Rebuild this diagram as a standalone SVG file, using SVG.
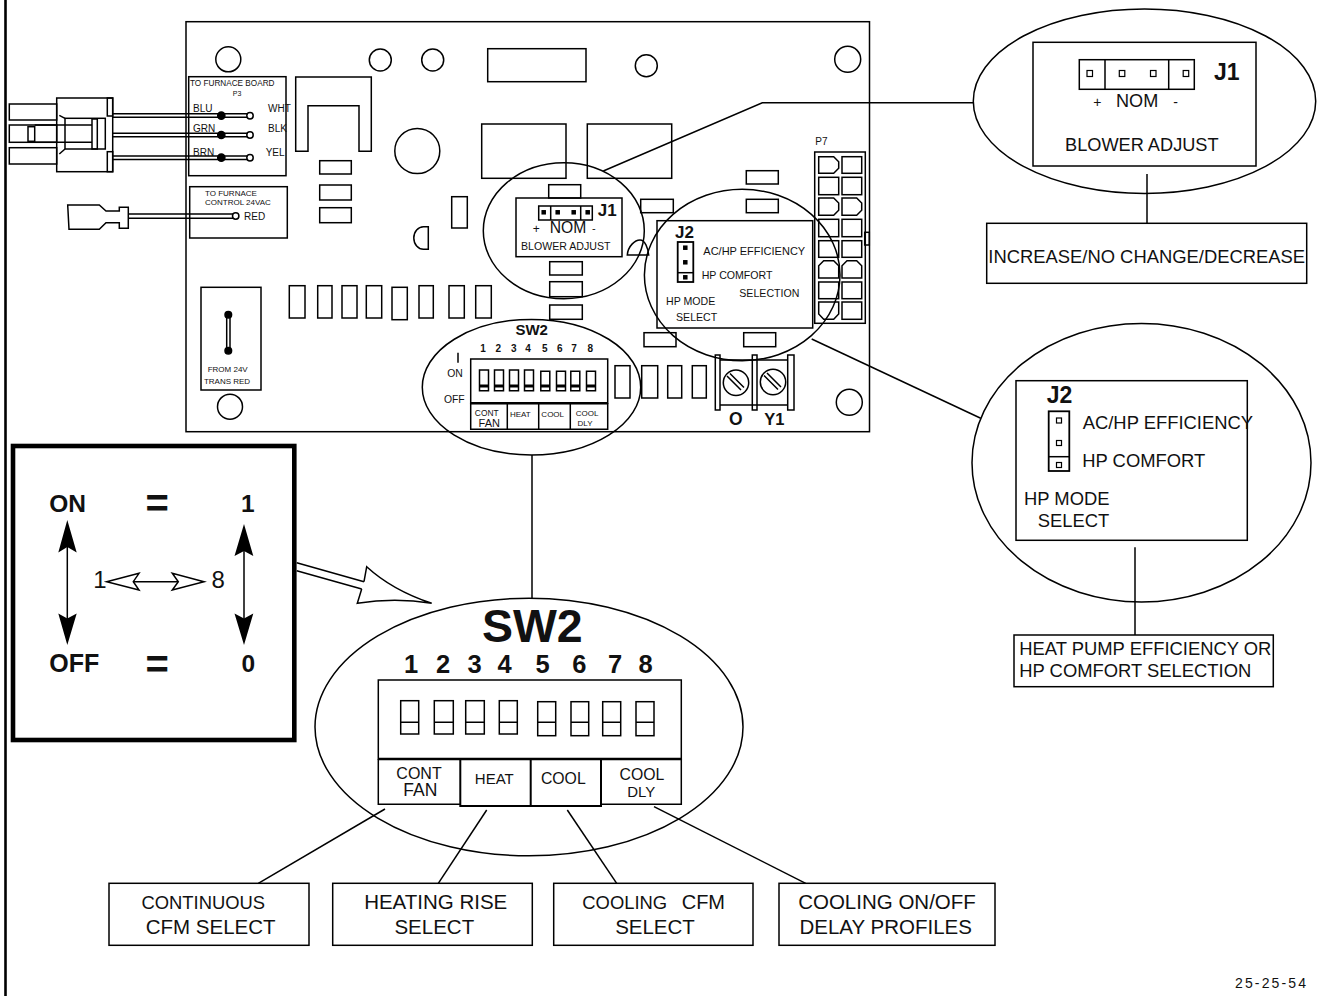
<svg xmlns="http://www.w3.org/2000/svg" width="1322" height="996" viewBox="0 0 1322 996">
<style>
text{font-family:"Liberation Sans",Arial,sans-serif;fill:#111;stroke:none!important}
.b{font-weight:bold}
.m{text-anchor:middle}
.s,.s rect,.s circle,.s path,.s ellipse,.s line{fill:none;stroke:#000;stroke-width:1.5}
.w{fill:#fff!important}
.k{fill:#000!important}
.h{stroke-width:2.4!important}
.t{stroke-width:1.2!important}
.t8{font-size:8px}.t10{font-size:10px}.t11{font-size:10.6px}.t18{font-size:18.4px}.t20{font-size:20.5px}
</style>
<rect width="1322" height="996" fill="#fff"/>
<line x1="5.5" y1="0" x2="5.5" y2="996" stroke="#000" stroke-width="2.6"/>

<g id="board" class="s">
<rect x="186" y="21.7" width="683.5" height="410"/>
<circle cx="228.3" cy="59.3" r="12.5"/><circle cx="380.3" cy="60" r="11"/><circle cx="432.7" cy="60" r="11"/><circle cx="646.3" cy="65.7" r="11"/><circle cx="847.7" cy="59.3" r="13"/><circle cx="230" cy="406.7" r="12.5"/><circle cx="849.3" cy="402.3" r="13"/>
<rect x="487.7" y="48.7" width="98.3" height="33"/>
<rect x="481.7" y="124" width="84.3" height="54.3"/><rect x="587.3" y="124" width="84.4" height="54.3"/>
<path d="M295.7 151.3V77H371.3V151.3H359V105.7H308V151.3Z"/>
<circle cx="417.3" cy="151" r="22.5"/>
<rect x="319.7" y="160.7" width="31.6" height="13.3"/><rect x="319.7" y="185" width="31.6" height="15"/><rect x="319.7" y="207.7" width="31.6" height="15"/>
<rect x="451.7" y="196.7" width="15.6" height="31.3"/>
<path d="M428.3 226.7H423.5A9.7 11.3 0 0 0 423.5 249.3H428.3Z"/>
<rect x="289.3" y="285.7" width="15.7" height="32.3"/><rect x="317.7" y="285.7" width="14.3" height="32.3"/><rect x="342" y="285.7" width="15" height="32.3"/><rect x="366.3" y="285.7" width="15.4" height="32.3"/><rect x="392" y="287.3" width="15.3" height="32.4"/><rect x="419" y="285.7" width="14.3" height="32.3"/><rect x="449" y="285.7" width="15.3" height="32.3"/><rect x="475.7" y="285.7" width="15.6" height="32.3"/>
<rect x="548.7" y="184.7" width="32" height="13.3"/><rect x="549.7" y="261.7" width="32.6" height="13.3"/><rect x="549.7" y="281.7" width="32.6" height="15"/><rect x="549.7" y="305" width="32.6" height="14.3"/>
<rect x="640.7" y="199.3" width="32.6" height="13.4"/><rect x="746.3" y="170.7" width="32" height="13.3"/><rect x="746.3" y="199.3" width="32" height="13.4"/>
<path d="M627.3 255C628 246 635 240 640 240C645 240 648 248 648.7 255Z"/>
<rect x="644" y="332.7" width="32" height="14"/><rect x="743.7" y="332.7" width="32" height="14"/>
<rect x="615" y="365.7" width="15" height="32.3"/><rect x="641.7" y="365.7" width="16" height="32.3"/><rect x="667.7" y="365.7" width="14" height="32.3"/><rect x="692.3" y="365.7" width="14" height="32.3"/>
</g>

<g id="p3-connector" class="s">
<rect x="188.7" y="76.7" width="97.3" height="99"/>
<rect x="56.7" y="98" width="56" height="73.7"/>
<rect x="9.3" y="104" width="47.4" height="16"/><rect x="9.3" y="125" width="47.4" height="17.3"/><rect x="9.3" y="147.7" width="47.4" height="16.3"/>
<rect x="65" y="118.3" width="40.3" height="30.7"/>
<rect x="107.3" y="98" width="5.4" height="18"/><rect x="107.3" y="151.7" width="5.4" height="20"/>
<rect x="92" y="119" width="5.3" height="30"/><rect x="28" y="126.7" width="6.7" height="14.6"/>
<line x1="59.3" y1="115.3" x2="65" y2="118.3"/><line x1="59.3" y1="154" x2="65" y2="149"/>
<path d="M34.7 125H92M34.7 142.3H92"/>
<path d="M112.7 113.7H250M112.7 117.3H250M112.7 133.2H250M112.7 136.8H250M112.7 156H250M112.7 159.5H250"/>
<circle class="k" cx="221.3" cy="115.7" r="3.6"/><circle class="w" cx="250" cy="115.7" r="3.2"/><circle class="k" cx="221.3" cy="135" r="3.6"/><circle class="w" cx="250" cy="135" r="3.2"/><circle class="k" cx="221.3" cy="157.7" r="3.6"/><circle class="w" cx="250" cy="157.7" r="3.2"/>
<text x="190" y="86" style="font-size:8.2px">TO FURNACE BOARD</text>
<text x="237" y="96" class="m" style="font-size:7px">P3</text>
<text x="193" y="112" class="t10">BLU</text><text x="193" y="132" class="t10">GRN</text><text x="193" y="155.7" class="t10">BRN</text>
<text x="268" y="112" class="t10">WHT</text><text x="268" y="132" class="t10">BLK</text><text x="265.7" y="156" class="t10">YEL</text>
</g>

<g id="red-terminal" class="s">
<rect x="189.7" y="186.7" width="97.6" height="51.3"/>
<path d="M67.7 205L69 229.3H99.3L106 222.7H119.3V228.3H128.3V207.3H119.3V211H106L99.3 205Z"/>
<path d="M128.3 214H234M128.3 218.3H234"/>
<circle class="w" cx="235.7" cy="216" r="3.2"/>
<text x="205" y="196" class="t8">TO FURNACE</text><text x="205" y="205" class="t8">CONTROL 24VAC</text>
<text x="244" y="220" class="t10">RED</text>
</g>

<g id="trans-terminal" class="s">
<rect x="201" y="287.3" width="60" height="102.7"/>
<path d="M226.7 314.7V350.7M230 314.7V350.7"/>
<circle class="k" cx="228.3" cy="314.7" r="3.3"/><circle class="k" cx="228.3" cy="350.7" r="3.3"/>
<text x="227.7" y="372" class="t8 m">FROM 24V</text><text x="227" y="384" class="t8 m">TRANS RED</text>
</g>

<g id="p7" class="s">
<rect x="814.7" y="152" width="50.6" height="171.3"/>
<rect x="864.7" y="232.3" width="4.6" height="12.7"/>
<path d="M818.7 156.7H833.7L838.7 161.7V168.3L833.7 173.3H818.7Z"/><rect x="842" y="156.7" width="19.7" height="16.6"/>
<rect x="818.7" y="177.3" width="20" height="17.4"/><rect x="842" y="177.3" width="19.7" height="17.4"/>
<path d="M818.7 198H833.7L838.7 203V210.3L833.7 215.3H818.7Z"/><path d="M842 198H856.7L861.7 203V210.3L856.7 215.3H842Z"/>
<rect x="818.7" y="219.3" width="20" height="17.4"/><rect x="842" y="219.3" width="19.7" height="17.4"/>
<rect x="818.7" y="240.7" width="20" height="16.6"/><rect x="842" y="240.7" width="19.7" height="16.6"/>
<path d="M818.7 278V265.7L823.7 260.7H833.7L838.7 265.7V278Z"/><path d="M842 278V265.7L847 260.7H856.7L861.7 265.7V278Z"/>
<rect x="818.7" y="282" width="20" height="16.7"/><rect x="842" y="282" width="19.7" height="16.7"/>
<path d="M818.7 302H838.7V314L833.7 319.3H823.7L818.7 314Z"/><rect x="842" y="302" width="19.7" height="17.3"/>
<text x="815.3" y="145" class="t10">P7</text>
</g>

<g id="terminals" class="s">
<rect x="715.3" y="355" width="4.7" height="55"/><rect x="752.3" y="355" width="4.7" height="55"/><rect x="787.7" y="355" width="6.3" height="55"/>
<path d="M720 360H787.7M720 405H787.7"/>
<circle cx="736" cy="382.7" r="12.7"/><circle cx="773" cy="382" r="12.7"/>
<path d="M727 376L741 390M730 373.5L744 387.5M764 375.5L778 389.5M767 373L781 387"/>
<text x="735.7" y="425" class="b m" style="font-size:17.5px">O</text><text x="774.3" y="425" class="b m" style="font-size:16.5px">Y1</text>
</g>

<g id="j1-small" class="s">
<ellipse cx="563.8" cy="230.7" rx="80.5" ry="68"/>
<rect x="516" y="198" width="106" height="58.7"/>
<rect x="538.7" y="206" width="53.6" height="14"/><path d="M550.7 206V220M580.7 206V220"/>
<rect class="k" x="542.2" y="210.8" width="3" height="3"/><rect class="k" x="556.2" y="210.8" width="3" height="3"/><rect class="k" x="572.2" y="210.8" width="3" height="3"/><rect class="k" x="586.2" y="210.8" width="3" height="3"/>
<text x="597.7" y="216" class="b" style="font-size:17px">J1</text>
<text x="532.7" y="232.7" style="font-size:12px">+</text><text x="549.7" y="232.7" style="font-size:15.7px">NOM</text><text x="592" y="232" style="font-size:11px">-</text>
<text x="521" y="250" class="t11">BLOWER ADJUST</text>
</g>

<g id="j2-small" class="s">
<ellipse cx="742.2" cy="275" rx="97.8" ry="85.7"/>
<rect x="657" y="220.7" width="155.7" height="107.3"/>
<rect x="677.7" y="242" width="15.6" height="40" style="stroke-width:1.8"/><line x1="677.7" y1="272.7" x2="693.3" y2="272.7"/>
<rect class="k" x="683.8" y="246.2" width="3" height="3"/><rect class="k" x="683.8" y="260.8" width="3" height="3"/><rect class="k" x="683.8" y="275.8" width="3" height="3"/>
<text x="675" y="238" class="b" style="font-size:17px">J2</text>
<text x="703.3" y="255" style="font-size:11px">AC/HP EFFICIENCY</text>
<text x="701.7" y="279" class="t11">HP COMFORT</text>
<text x="739.3" y="297" class="t11">SELECTION</text>
<text x="666" y="305" class="t11">HP MODE</text><text x="676" y="321" class="t11">SELECT</text>
</g>

<g id="sw2-small" class="s">
<ellipse cx="531.5" cy="387.2" rx="109.2" ry="67.8"/>
<rect x="470.7" y="359" width="137" height="44.3"/>
<path d="M470.7 403.3H607.7" class="h"/>
<path d="M470.7 403.3V429.3H607.7V403.3M507.3 403.3V429.3M538.7 403.3V429.3M570.3 403.3V429.3"/>
<line x1="458" y1="352.7" x2="458" y2="362.7"/>
<path d="M479.5 370H488.5V390.7H479.5ZM494.5 370H503.5V390.7H494.5ZM509.5 370H518.5V390.7H509.5ZM524.5 370H533.5V390.7H524.5ZM540.8 371.3H549.8V390.7H540.8ZM556.5 371.3H565.5V390.7H556.5ZM570.8 371.3H579.8V390.7H570.8ZM586.5 371.3H595.5V390.7H586.5Z"/>
<path style="stroke-width:3" d="M479.5 386H488.5M494.5 386H503.5M509.5 386H518.5M524.5 386H533.5M540.8 386H549.8M556.5 386H565.5M570.8 386H579.8M586.5 386H595.5"/>
<text x="531.7" y="335" class="b m" style="font-size:15px">SW2</text>
<g class="b m" style="font-size:10px"><text x="483" y="351.7">1</text><text x="498.3" y="351.7">2</text><text x="513.7" y="351.7">3</text><text x="528" y="351.7">4</text><text x="544.7" y="351.7">5</text><text x="559.7" y="351.7">6</text><text x="574" y="351.7">7</text><text x="590.3" y="351.7">8</text></g>
<text x="455" y="376.7" class="m" style="font-size:10.4px">ON</text><text x="454.3" y="403.3" class="m" style="font-size:10.4px">OFF</text>
<text x="486.7" y="416" class="m" style="font-size:8.4px">CONT</text><text x="489.3" y="426.7" class="m" style="font-size:11px">FAN</text>
<text x="520.3" y="416.7" class="m t8">HEAT</text><text x="552.7" y="416.7" class="m t8">COOL</text>
<text x="587" y="416" class="m t8">COOL</text><text x="585" y="426" class="m t8">DLY</text>
</g>

<g id="connectors" class="s">
<path d="M603.3 171L762.3 102.8H974"/>
<line x1="811.7" y1="339" x2="980.7" y2="418.3"/>
<line x1="532" y1="455" x2="532" y2="598.5"/>
<line x1="1147" y1="174" x2="1147" y2="223"/>
<line x1="1135" y1="547.3" x2="1135" y2="635"/>
<line x1="385" y1="809" x2="258.3" y2="883.3"/>
<line x1="486.7" y1="810" x2="438.3" y2="883.3"/>
<line x1="567.3" y1="810" x2="616.7" y2="883.3"/>
<line x1="654" y1="806.7" x2="805.7" y2="883.3"/>
</g>

<g id="legend" class="s">
<rect x="13" y="446" width="281.3" height="294" style="stroke-width:4.6"/>
<line x1="67.3" y1="545" x2="67.3" y2="620"/>
<line x1="244" y1="548" x2="244" y2="620"/>
<path class="k" style="stroke:none" d="M67.3 520L76.7 552.5L67.3 547L58.3 552.5ZM67.3 645L76.7 613.5L67.3 618.5L58.3 613.5ZM244 524L253.3 556L244 551L234.5 556ZM244 645L253.3 613.5L244 618.5L234.5 613.5Z"/>
<text x="49.3" y="512.3" class="b" style="font-size:24.5px">ON</text>
<text x="157.3" y="517" class="b m" style="font-size:40px">=</text>
<text x="247.7" y="512.3" class="b m" style="font-size:24.5px">1</text>
<text x="49.3" y="671.7" class="b" style="font-size:25px">OFF</text>
<text x="157.3" y="678" class="b m" style="font-size:40px">=</text>
<text x="248.3" y="671.7" class="b m" style="font-size:24.5px">0</text>
<text x="100" y="588.3" class="m" style="font-size:24px">1</text>
<text x="218.3" y="588.3" class="m" style="font-size:24px">8</text>
<line x1="133" y1="581.7" x2="178" y2="581.7"/>
<path d="M106.7 581.7L139 573.3L133.3 581.7L139 590ZM204 581.7L172.3 573.3L178.3 581.7L172.3 590Z"/>
</g>

<g id="pointer-arrow" class="s">
<path d="M296.7 562.7L364 581.7M296.7 570.7L361.7 589"/>
<path d="M364 581.7L366.7 566.7Q392 590 431.7 603.3Q395 597 357.3 603.3L361.7 589"/>
</g>

<g id="sw2-large" class="s">
<ellipse cx="529" cy="727" rx="214" ry="128.8"/>
<rect x="378.3" y="680" width="303" height="79"/>
<path class="h" d="M378.3 759H681.3"/>
<path d="M378.3 759V804.3H460.3M601 804.3H681.3V759"/>
<path style="stroke-width:2" d="M460.3 759V806H601V759M530.7 759V806"/>
<rect x="400.7" y="700.7" width="18" height="33.3"/><rect x="434.3" y="700.7" width="19" height="33.3"/><rect x="465.7" y="700.7" width="18.6" height="33.3"/><rect x="499.3" y="700.7" width="18" height="33.3"/><rect x="537.7" y="701.7" width="18" height="34"/><rect x="571" y="701.7" width="17.7" height="34"/><rect x="602.7" y="701.7" width="18" height="34"/><rect x="636" y="701.7" width="18" height="34"/>
<path d="M400.7 722.3H418.7M434.3 722.3H453.3M465.7 722.3H484.3M499.3 722.3H517.3M537.7 722.3H555.7M571 722.3H588.7M602.7 722.3H620.7M636 722.3H654"/>
<text x="532.3" y="641.7" class="b m" style="font-size:46.5px">SW2</text>
<g class="b m" style="font-size:25.5px"><text x="411" y="673.3">1</text><text x="443" y="673.3">2</text><text x="474.7" y="673.3">3</text><text x="504.7" y="673.3">4</text><text x="542.7" y="673.3">5</text><text x="579.3" y="673.3">6</text><text x="615" y="673.3">7</text><text x="645.7" y="673.3">8</text></g>
<text x="419" y="779" class="m" style="font-size:16px">CONT</text><text x="420.3" y="795.7" class="m" style="font-size:17.5px">FAN</text>
<text x="494.3" y="784" class="m" style="font-size:15px">HEAT</text><text x="563.3" y="784" class="m" style="font-size:15.8px">COOL</text>
<text x="642" y="780" class="m" style="font-size:15.8px">COOL</text><text x="641.3" y="797.3" class="m" style="font-size:15px">DLY</text>
</g>

<g id="j1-large" class="s">
<ellipse cx="1144.5" cy="101.2" rx="171.2" ry="92.2"/>
<rect x="1033" y="42.3" width="223" height="123.7"/>
<rect x="1079.3" y="59.7" width="115" height="29.6"/><path d="M1105 59.7V89.3M1168.7 59.7V89.3"/>
<rect class="t" x="1087" y="70.5" width="5.5" height="6"/><rect class="t" x="1119.3" y="70.5" width="5.5" height="6"/><rect class="t" x="1150.5" y="70.5" width="5.5" height="6"/><rect class="t" x="1183.2" y="70.5" width="5.5" height="6"/>
<text x="1214" y="80" class="b" style="font-size:23px">J1</text>
<text x="1093.3" y="107.3" style="font-size:14px">+</text><text x="1116" y="107.3" style="font-size:18.1px">NOM</text><text x="1173.3" y="107.3" style="font-size:14px">-</text>
<text x="1065" y="151" style="font-size:18.2px">BLOWER ADJUST</text>
</g>

<g id="j1-note" class="s">
<rect x="986.7" y="223.3" width="320" height="60"/>
<text x="988.3" y="263.3" class="t18">INCREASE/NO CHANGE/DECREASE</text>
</g>

<g id="j2-large" class="s">
<ellipse cx="1141.5" cy="462.7" rx="169.5" ry="139.3"/>
<rect x="1016" y="380.7" width="231.3" height="159.6"/>
<rect style="stroke-width:1.8" x="1048.7" y="411.3" width="20.6" height="59.7"/><line x1="1048.7" y1="456.7" x2="1069.3" y2="456.7"/>
<rect class="t" x="1056.5" y="418" width="5" height="5"/><rect class="t" x="1056.5" y="440.5" width="5" height="5"/><rect class="t" x="1056.5" y="462.5" width="5" height="5"/>
<text x="1046.7" y="403.3" class="b" style="font-size:23px">J2</text>
<text x="1082.7" y="428.7" class="t18">AC/HP EFFICIENCY</text>
<text x="1082.3" y="466.7" class="t18">HP COMFORT</text>
<text x="1024" y="505" class="t18">HP MODE</text><text x="1037.7" y="527.3" class="t18">SELECT</text>
</g>

<g id="j2-note" class="s">
<rect x="1014" y="635" width="259.3" height="51.7"/>
<text x="1019.3" y="655" class="t18">HEAT PUMP EFFICIENCY OR</text>
<text x="1019.3" y="677.3" class="t18">HP COMFORT SELECTION</text>
</g>

<g id="note-continuous" class="s">
<rect x="109" y="883.3" width="200" height="62"/>
<text x="203.3" y="909" class="t18 m">CONTINUOUS</text><text x="210.7" y="934" class="t20 m">CFM SELECT</text>
</g>
<g id="note-heating" class="s">
<rect x="332.7" y="883.3" width="199.6" height="62"/>
<text x="435.7" y="909" class="t20 m">HEATING RISE</text><text x="434.3" y="934" class="t20 m">SELECT</text>
</g>
<g id="note-cooling" class="s">
<rect x="553.7" y="883.3" width="199.3" height="62"/>
<text x="582.3" y="909" class="t18">COOLING</text><text x="681.7" y="909" style="font-size:20px">CFM</text><text x="655" y="934" class="t20 m">SELECT</text>
</g>
<g id="note-delay" class="s">
<rect x="779" y="883.3" width="216" height="62"/>
<text x="887" y="909" class="t20 m">COOLING ON/OFF</text><text x="885.7" y="934" class="t20 m">DELAY PROFILES</text>
</g>
<text id="figure-number" x="1235" y="987.7" style="font-size:14px" textLength="71">25-25-54</text>
</svg>
